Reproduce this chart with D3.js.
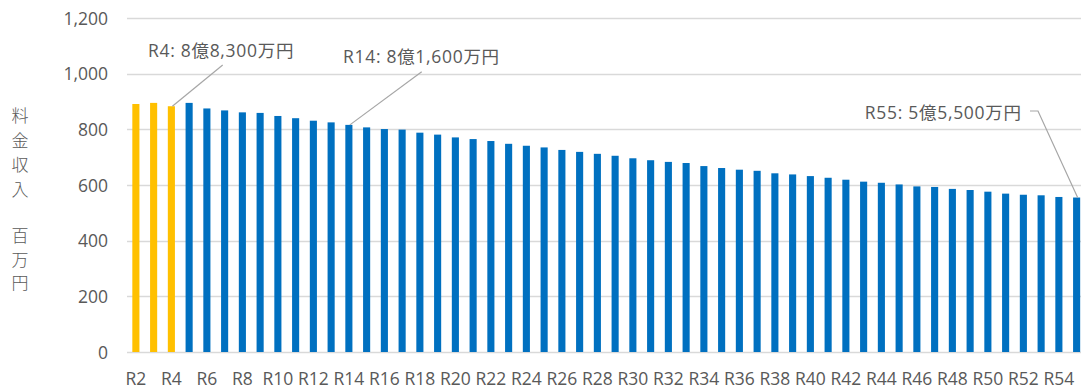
<!DOCTYPE html>
<html>
<head>
<meta charset="utf-8">
<script src="https://cdn.jsdelivr.net/npm/d3@7"></script>
<style>
  html, body { margin: 0; padding: 0; background: #fff; }
  svg { display: block; }
  text { font-family: "Open Sans", "Noto Sans CJK JP", sans-serif; fill: #595959; }
</style>
</head>
<body>
<svg id="chart" width="1081" height="389"></svg>
<script>
// 年度 (令和)
const years = ["R2","R3","R4","R5","R6","R7","R8","R9","R10","R11","R12","R13","R14","R15","R16","R17","R18","R19","R20","R21","R22","R23","R24","R25","R26","R27","R28","R29","R30","R31","R32","R33","R34","R35","R36","R37","R38","R39","R40","R41","R42","R43","R44","R45","R46","R47","R48","R49","R50","R51","R52","R53","R54","R55"];

// 料金収入 (百万円)
const revenue = [891,895,883,895,875,868,861,859,848,840,831,825,816,807,801,799,788,781,771,765,758,748,741,735,726,719,712,705,696,689,683,679,668,661,655,651,642,638,632,626,619,612,608,602,595,593,586,582,576,569,565,563,557,555];

// 実績年度 (黄色で表示)
const actualYears = ["R2","R3","R4"];

// 軸目盛
const yTicks = [0,200,400,600,800,1000,1200];
const xTickLabels = years.filter((d, i) => i % 2 === 0);

// 注記
const noteYears = ["R4","R14","R55"];
const noteTexts = ["R4: 8億8,300万円","R14: 8億1,600万円","R55: 5億5,500万円"];

const yTitleTop = ["料","金","収","入"];
const yTitleBottom = ["百","万","円"];

const svg = d3.select("#chart");

const x = d3.scaleBand()
  .domain(years)
  .range([127, 1085.5])
  .paddingInner(0.6)
  .paddingOuter(0.3);

const y = d3.scaleLinear()
  .domain([0, 1200])
  .range([352, 18]);

// gridlines
svg.append("g")
  .selectAll("line")
  .data(yTicks)
  .join("line")
  .attr("x1", 127)
  .attr("x2", 1081)
  .attr("y1", d => Math.round(y(d)) + 0.5)
  .attr("y2", d => Math.round(y(d)) + 0.5)
  .attr("stroke", "#d9d9d9")
  .attr("stroke-width", 1.3);

// y axis labels
const yAxis = d3.axisLeft(y).tickValues(yTicks).tickFormat(d3.format(",")).tickSize(0).tickPadding(0);
const yg = svg.append("g").attr("transform", "translate(108,0)").call(yAxis);
yg.select(".domain").remove();
yg.selectAll("text")
  .attr("font-size", "17.5px")
  .attr("dy", "0.36em")
  .style("font-family", "\"Open Sans\", \"Noto Sans CJK JP\", sans-serif")
  .style("fill", "#595959");

// bars
svg.append("g")
  .selectAll("rect")
  .data(years)
  .join("rect")
  .attr("x", d => x(d))
  .attr("width", x.bandwidth())
  .attr("y", (d, i) => y(revenue[i]))
  .attr("height", (d, i) => y(0) - y(revenue[i]))
  .attr("fill", d => actualYears.includes(d) ? "#FFC000" : "#0070C0");

// x axis labels
const xAxis = d3.axisBottom(x)
  .tickValues(xTickLabels)
  .tickSize(0)
  .tickPadding(0);
const xg = svg.append("g").attr("transform", "translate(0,385)").call(xAxis);
xg.select(".domain").remove();
xg.selectAll("text")
  .attr("font-size", "17.5px")
  .attr("dy", "0")
  .style("font-family", "\"Open Sans\", \"Noto Sans CJK JP\", sans-serif")
  .style("fill", "#595959");

// y axis title (vertical)
const titleG = svg.append("g")
  .attr("font-size", "17px")
  .attr("font-weight", 300)
  .attr("text-anchor", "middle")
  .style("font-family", "\"Noto Sans CJK JP\", sans-serif");
titleG.selectAll("text.t1")
  .data(yTitleTop)
  .join("text")
  .attr("class", "t1")
  .attr("x", 20)
  .attr("y", (d, i) => 115.5 + i * 24.6)
  .attr("dy", "0.38em")
  .text(d => d);
titleG.selectAll("text.t2")
  .data(yTitleBottom)
  .join("text")
  .attr("class", "t2")
  .attr("x", 20)
  .attr("y", (d, i) => 235.5 + i * 23.7)
  .attr("dy", "0.38em")
  .text(d => d);

// callouts
const valueOf = yr => revenue[years.indexOf(yr)];
const cx = yr => x(yr) + x.bandwidth() / 2;
const noteLayout = [
  { tx: 148, ty: 57, anchor: "start", path: yr => [[cx(yr) + 1, y(valueOf(yr))], [222.7, 65]] },
  { tx: 343, ty: 62.5, anchor: "start", path: yr => [[cx(yr) + 1, y(valueOf(yr))], [421.7, 71.7]] },
  { tx: 1021.7, ty: 119.3, anchor: "end", path: yr => [[1030, 111], [1038, 111], [cx(yr) + 1, y(valueOf(yr))]] }
];

const notes = svg.append("g");
noteYears.forEach((yr, i) => {
  const L = noteLayout[i];
  notes.append("path")
    .attr("d", d3.line()(L.path(yr)))
    .attr("fill", "none")
    .attr("stroke", "#a6a6a6")
    .attr("stroke-width", 1.2);
  notes.append("text")
    .attr("x", L.tx)
    .attr("y", L.ty)
    .attr("text-anchor", L.anchor)
    .attr("font-size", "17.5px")
    .attr("letter-spacing", "0.7px")
    .text(noteTexts[i]);
});
</script>
</body>
</html>
